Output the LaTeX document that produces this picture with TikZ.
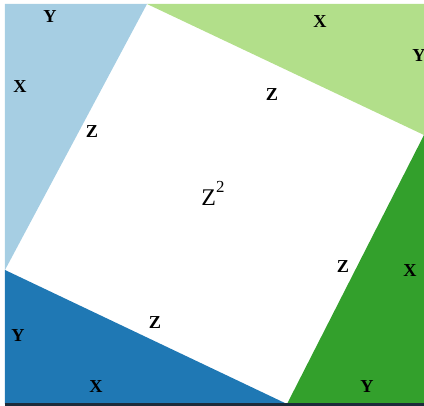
\documentclass[tikz,border=0pt]{standalone}
\usepackage{fontspec}
\setmainfont{Liberation Serif}
\usetikzlibrary{positioning}
\definecolor{lblue}{HTML}{A6CEE3}
\definecolor{dblue}{HTML}{1F78B4}
\definecolor{lgreen}{HTML}{B2DF8A}
\definecolor{dgreen}{HTML}{33A02C}
\definecolor{edge}{HTML}{1C2B3A}
\begin{document}
\begin{tikzpicture}[x=0.025cm,y=-0.025cm,
  side/.style={font=\fontsize{13}{13}\selectfont\bfseries,inner sep=0pt},
  area/.style={font=\fontsize{17}{17}\selectfont,inner sep=0pt}]
  \useasboundingbox (0,0) rectangle (424,406);
  \begin{scope}
  \clip (5,4) rectangle (424,406);
  % outer square corners and inner square corners
  \coordinate (tl) at (5,4);
  \coordinate (tr) at (424,4);
  \coordinate (br) at (424,404);
  \coordinate (bl) at (5,404);
  \coordinate (qt) at (147,4);
  \coordinate (qr) at (424,135);
  \coordinate (qb) at (287,404);
  \coordinate (ql) at (5,270);
  % four triangles
  \fill[lblue] (tl) -- (qt) -- (ql) -- cycle;
  \fill[lgreen] (qt) -- (tr) -- (qr) -- cycle;
  \fill[dgreen] (qr) -- (br) -- (qb) -- cycle;
  \fill[dblue] (ql) -- (qb) -- (bl) -- cycle;
  \fill[edge] (5,403.5) rectangle (424,406);
  % labels
  \node[side] (y1) at (50,17) {Y};
  \node[side] (x1) at (20,87) {X};
  \node[side] (z1) at (92,132) {Z};
  \node[side] (x2) at (320,22) {X};
  \node[side] (y2) at (419,56) {Y};
  \node[side] (z2) at (272,95) {Z};
  \node[area] (sq) at (213,193) {Z\raisebox{0.55em}{\fontsize{12}{12}\selectfont 2}};
  \node[side] (z3) at (343,267) {Z};
  \node[side] (x3) at (410,271) {X};
  \node[side] (y3) at (367,387) {Y};
  \node[side] (z4) at (155,323) {Z};
  \node[side] (y4) at (18,336) {Y};
  \node[side] (x4) at (96,387) {X};
  \end{scope}
\end{tikzpicture}
\end{document}
